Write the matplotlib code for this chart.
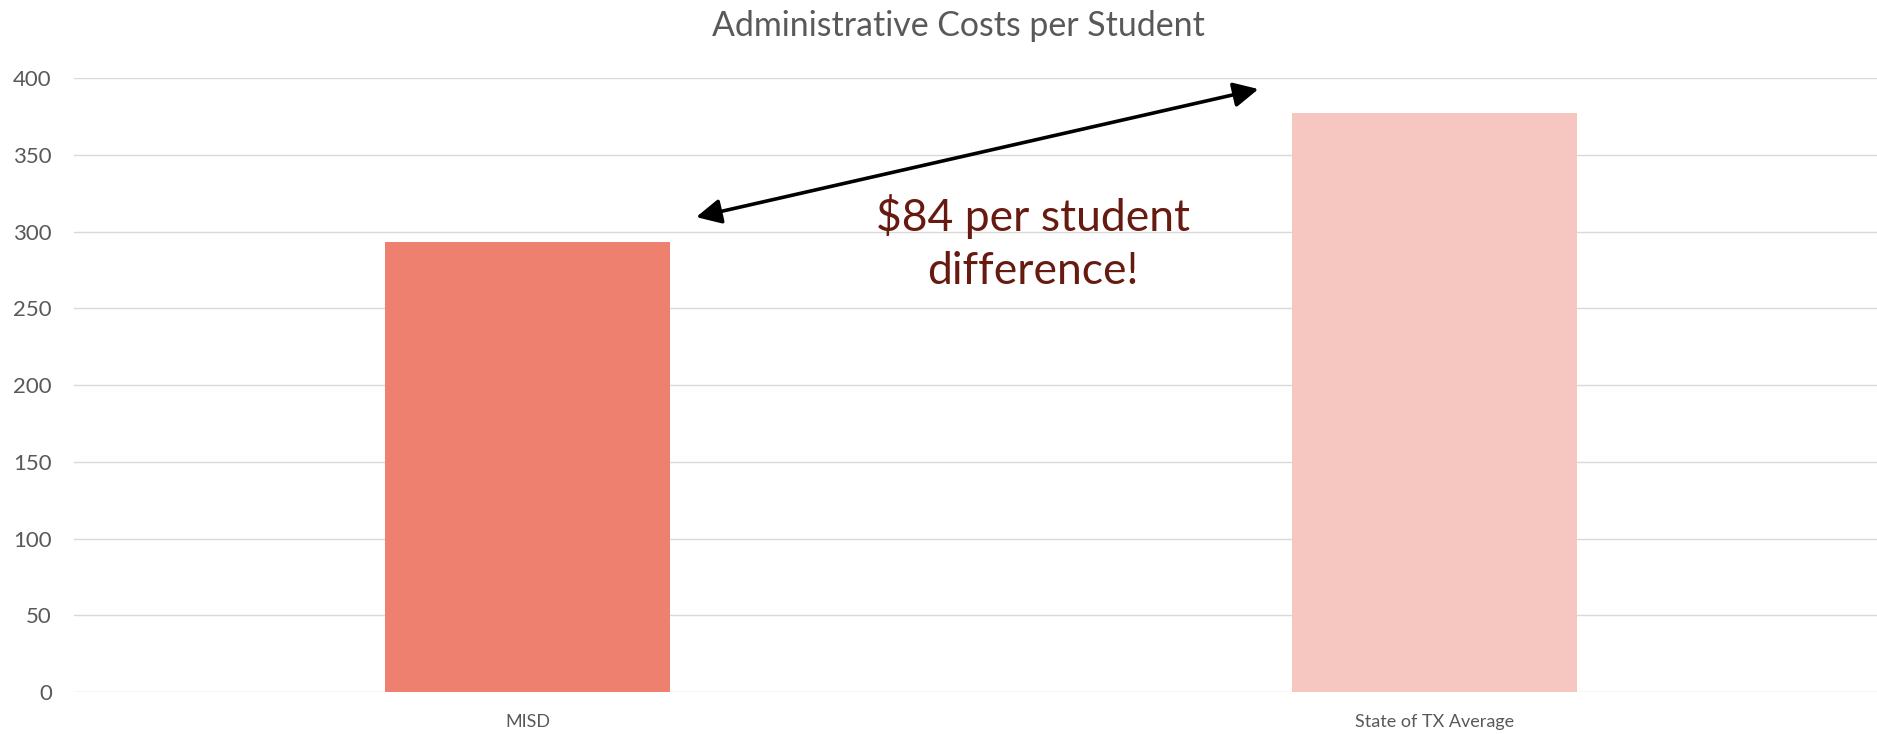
import matplotlib

matplotlib.use("Agg")
import matplotlib.pyplot as plt

# Data.
categories = ["MISD", "State of TX Average"]
costs = [293, 377]
bar_colors = ["#ee806f", "#f5c7c0"]
y_ticks = [0, 50, 100, 150, 200, 250, 300, 350, 400]

TEXT_GRAY = "#595959"
GRID = "#d9d9d9"
NOTE_RED = "#661a10"

plt.rcParams.update({"font.family": ["Lato", "DejaVu Sans"]})

fig = plt.figure(figsize=(18.77, 7.34), dpi=100)
ax = fig.add_axes([74 / 1877, 0.0572, 1 - 74 / 1877, 0.8365])

x = list(range(len(categories)))
ax.bar(x, costs, width=0.314, color=bar_colors, zorder=2)

ax.set_xlim(-0.5, 1.488)
ax.set_ylim(0, 400)
ax.set_yticks(y_ticks)
ax.set_xticks(x)
ax.set_xticklabels(categories)
ax.tick_params(axis="both", length=0, colors=TEXT_GRAY)
ax.tick_params(axis="x", pad=16, labelsize=13)
ax.tick_params(axis="y", pad=16, labelsize=16)
ax.grid(axis="y", color=GRID, linewidth=1.0, zorder=0)
for side in ("top", "right", "left", "bottom"):
    ax.spines[side].set_visible(False)

fig.text(0.5105, 0.965, "Administrative Costs per Student", ha="center",
         va="center", fontsize=24.4, color=TEXT_GRAY)

# Double-headed arrow between bar tops.
ax.annotate("", xy=(0.806, 392.8), xytext=(0.186, 309.4),
            arrowprops=dict(arrowstyle="<|-|>,head_length=0.6,head_width=0.3",
                            color="black", lw=2.6, mutation_scale=25,
                            shrinkA=0, shrinkB=0),
            zorder=5)
ax.text(0.557, 292.5, "$84 per student\ndifference!", ha="center",
        va="center", fontsize=32, color=NOTE_RED, linespacing=1.38, zorder=5)

fig.savefig("out.png", dpi=100, facecolor="white")
